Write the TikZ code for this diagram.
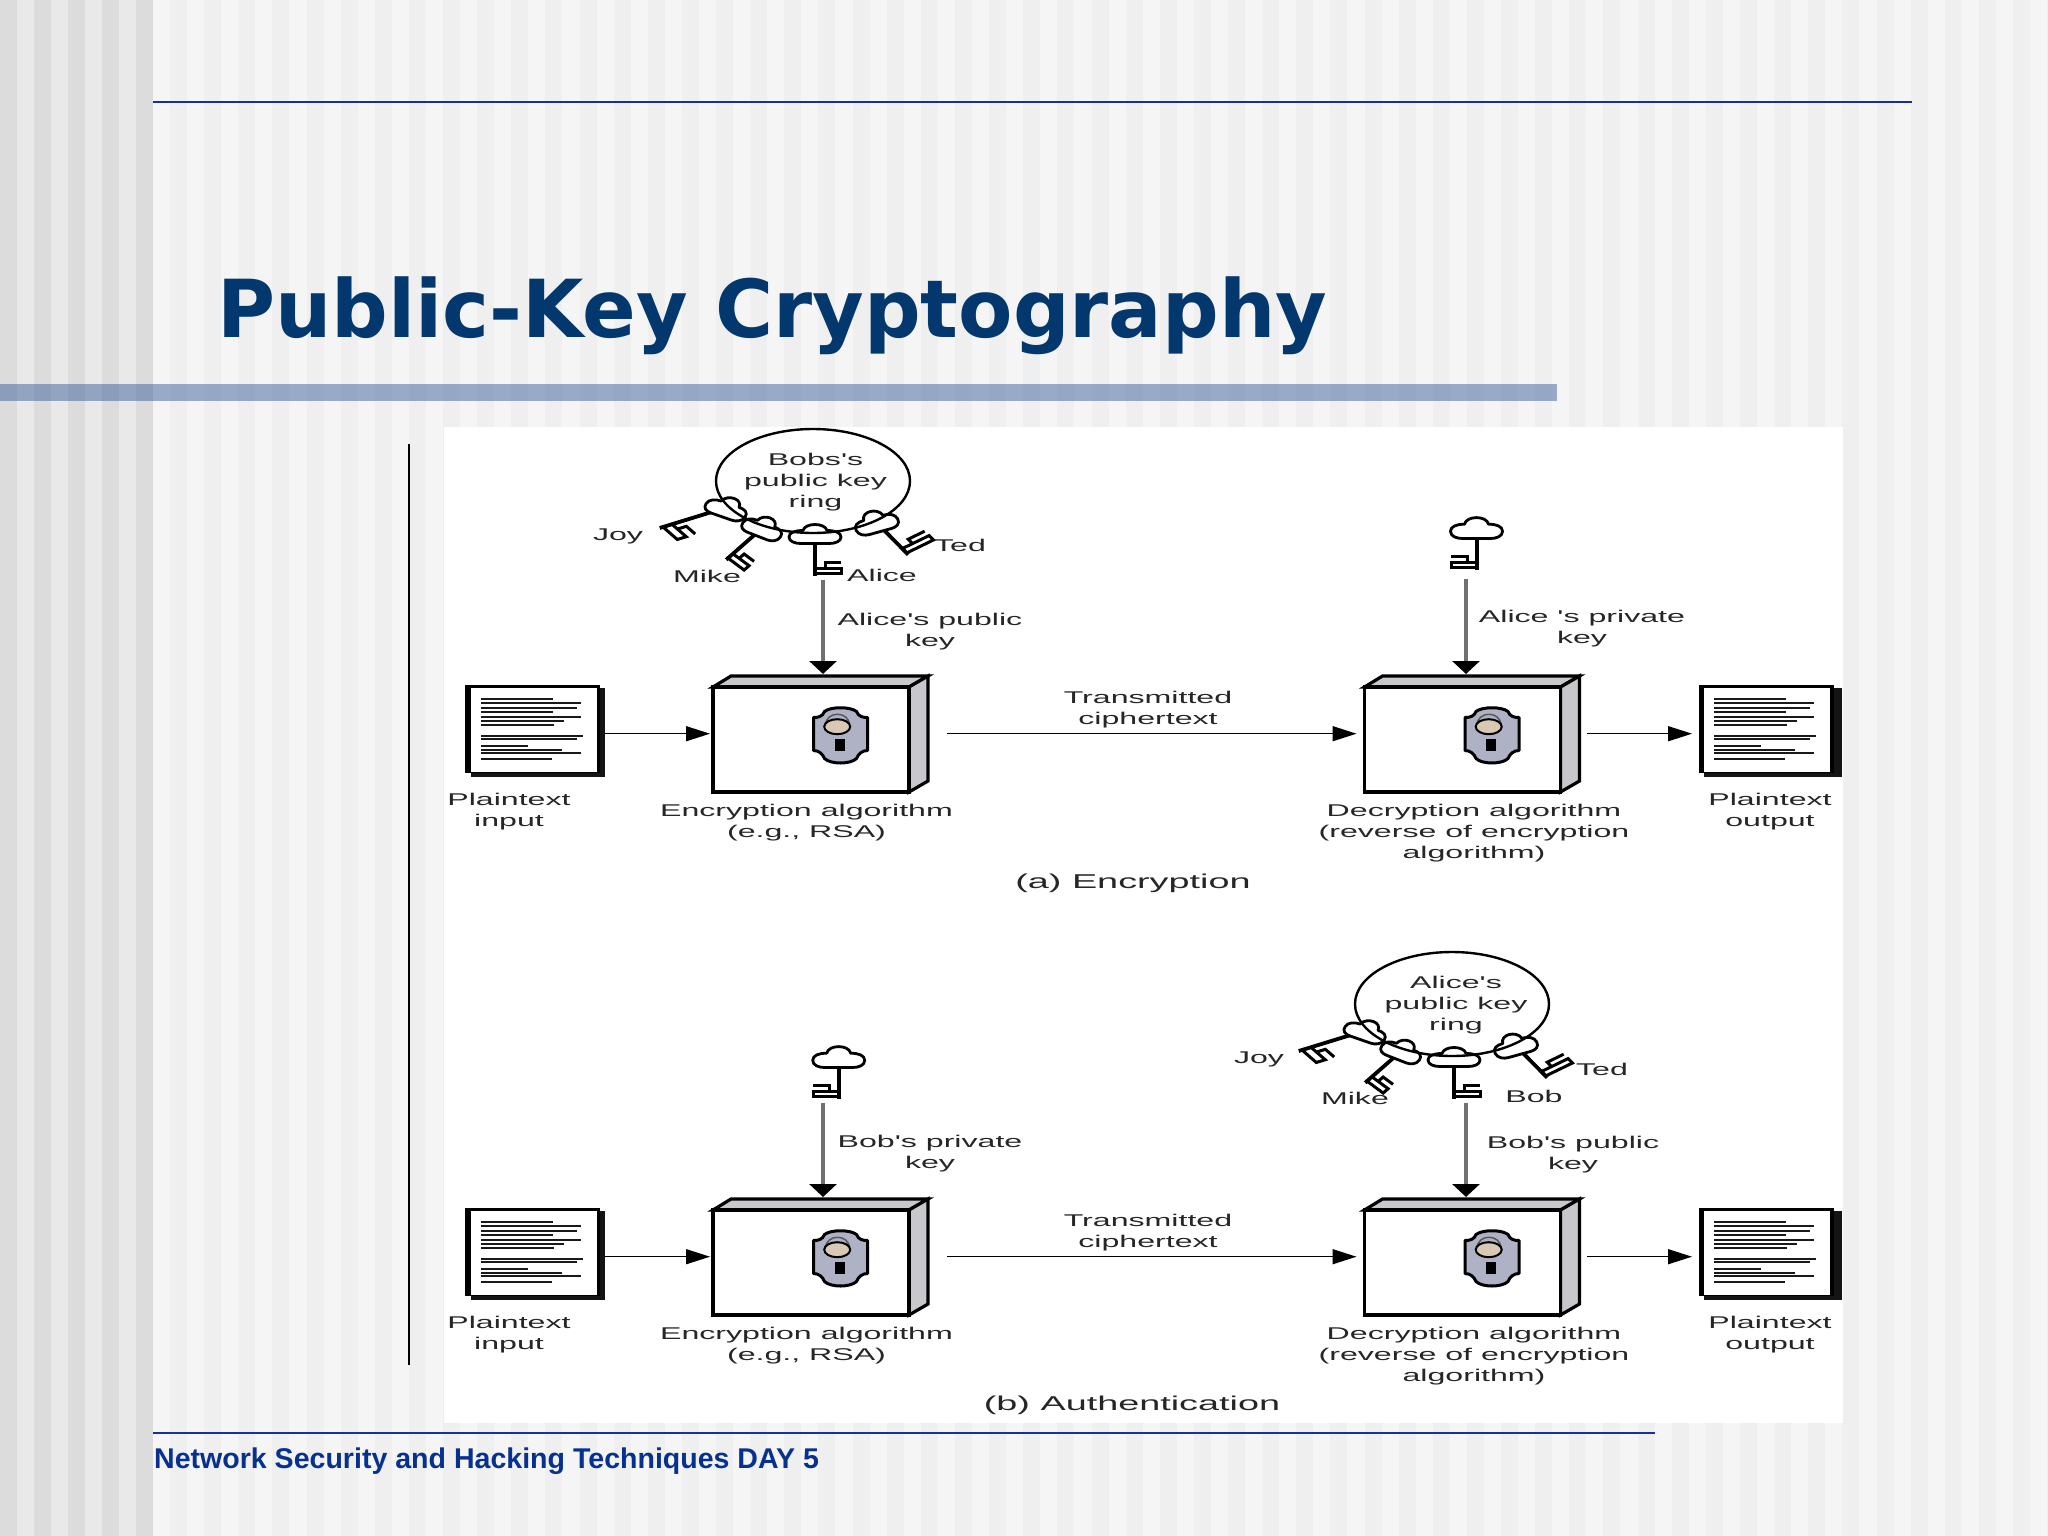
\documentclass[tikz,border=0pt]{standalone}
\usepackage{fontspec}
\usetikzlibrary{arrows.meta}
\setmainfont{Liberation Sans}
\newfontfamily\imgfont[FakeStretch=1.89]{Liberation Sans}
\newfontfamily\titlefont[FakeStretch=.99]{DejaVu Sans}
\definecolor{bgbase}{HTML}{F5F5F6}
\definecolor{bgdark}{HTML}{EFEFF0}
\definecolor{sidelight}{HTML}{E9E9E9}
\definecolor{sidedark}{HTML}{DCDCDC}
\definecolor{bandblue}{HTML}{3E609B}
\definecolor{titleblue}{HTML}{03386E}
\definecolor{footblue}{HTML}{07318F}
\definecolor{ruleblue}{HTML}{16329A}
\definecolor{boxgrey}{HTML}{C8C8CC}
\definecolor{lockgrey}{HTML}{AEB2C4}
\definecolor{locktan}{HTML}{D8C8B4}
\definecolor{inktext}{HTML}{262626}
\definecolor{keyarrow}{HTML}{707070}
\tikzset{
  imglabel/.style={font=\imgfont\fontsize{17}{21}\selectfont,align=center,inner sep=0pt,text=inktext,yshift=-1.7pt},
  caplabel/.style={font=\imgfont\fontsize{20}{21}\selectfont,align=center,inner sep=0pt,text=inktext,yshift=-1.7pt},
  docsheet/.style={fill=white,inner sep=0pt,outer sep=0pt},
  algobox/.style={draw=black,line width=3.5pt,fill=white,inner sep=0pt,outer sep=0pt,minimum width=196pt,minimum height=105pt},
  boxface/.style={draw=black,line width=3.2pt,fill=boxgrey,line join=miter},
  doctext/.style={draw=black!90,line width=2pt},
  flowarrow/.style={draw=black,line width=1.4pt,-{Triangle[length=24pt,width=15pt]}},
  keyflow/.style={draw=keyarrow,line width=4.6pt,-{Triangle[length=13pt,width=27pt,color=black]}},
  keystemline/.style={draw=black,line width=3.8pt},
  keybitline/.style={draw=black,line width=3pt,line join=miter},
  keyheadline/.style={draw=black,line width=2.8pt,line join=round,fill=white},
  ringline/.style={draw=black,line width=2.4pt},
  toprule/.style={draw=ruleblue,line width=2pt}
}
% key body: origin at the centre of the head, stem towards local +y, bits on local +x
\newcommand{\keystem}[6]{%
  \begin{scope}[shift={(#1,#2)}]
  \begin{scope}[cm={#3,#4,#5,#6,(0,0)}]
    \draw[keystemline] (0,8) -- (0,42);
    \draw[keybitline] (0,40) -- (26,40) -- (26,34.5) -- (0,34.5);
    \draw[keybitline] (26,29) -- (10,29) -- (10,34.5);
  \end{scope}
  \end{scope}}
% key head, with its own axes
\newcommand{\keyhead}[6]{%
  \begin{scope}[shift={(#1,#2)}]
  \begin{scope}[cm={#3,#4,#5,#6,(0,0)}]
    \draw[keyheadline] (-26,3.5) .. controls (-26,-1) and (-20,-3) .. (-12,-3)
      .. controls (-10,-11) and (10,-11) .. (12,-3)
      .. controls (20,-3) and (26,-1) .. (26,3.5)
      .. controls (26,8) and (20,10) .. (14,10) -- (-14,10)
      .. controls (-20,10) and (-26,8) .. (-26,3.5) -- cycle;
  \end{scope}
  \end{scope}}
% the four keys on a ring; #1,#2 is the offset of the ring
\newcommand{\ringkeys}[2]{%
  \begin{scope}[shift={(#1,#2)}]
    \keystem{728}{507}{.55}{-.48}{1.625}{.5}
    \keystem{764}{526.5}{.62}{-.46}{.9}{.79}
    \keystem{815}{533.5}{1}{0}{0}{1}
    \keystem{875}{521}{1.03}{.5}{-.79}{.8}
    \keyhead{728}{507}{.75}{-.26}{.68}{.95}
    \keyhead{764}{526.5}{.72}{-.28}{.68}{.95}
    \keyhead{815}{533.5}{1}{0}{0}{1}
    \keyhead{875}{521}{.8}{.22}{-.55}{1.05}
    \draw[ringline] (813,481) ellipse [x radius=97,y radius=52];
  \end{scope}}
% lock badge on an algorithm box
\newcommand{\lockicon}[2]{%
  \begin{scope}[shift={(#1,#2)}]
    \draw[draw=black,line width=3pt,fill=lockgrey,line join=round]
      (-16,-24) .. controls (-10,-29) and (10,-29) .. (16,-24)
      .. controls (18,-19) and (22,-18) .. (27,-18) -- (27,15)
      .. controls (22,15) and (18,18) .. (16,23)
      .. controls (10,29) and (-10,29) .. (-16,23)
      .. controls (-18,18) and (-22,15) .. (-27,15) -- (-27,-18)
      .. controls (-22,-18) and (-18,-19) .. (-16,-24) -- cycle;
    \draw[draw=black!65,line width=1.5pt] (-15,-10) .. controls (-15,-25) and (9,-25) .. (9,-10);
    \draw[draw=black,line width=2pt,fill=locktan] (-3.3,-8.8) ellipse [x radius=13,y radius=7.5];
    \fill[black] (-5.7,3) rectangle (4.3,15);
  \end{scope}}
% page icon; #1 name, #2 outer left, #3 inner left, #4 inner right, #5 shadow right, #6 text shift
\newcommand{\docicon}[6]{%
  \fill[black!92] ({#3},688) rectangle (#5,777);
  \fill[black] (#2,685) rectangle ({#4+3.5},773);
  \node[docsheet,anchor=north west,minimum width={#4-#3},minimum height=83.7pt] (#1) at (#3,688) {};
  \foreach \yy/\xx in {699.3/553,703.3/581,708/576.7,712.3/553,716.7/581,721/564,725.3/554,735.7/583,739/576.7,746/528,750/561.7,752.7/581,759/551.7}
    \draw[doctext] ({481+#6},\yy) -- ({\xx+#6},\yy);}
% algorithm box; #1 name, #2 centre x
\newcommand{\algoicon}[2]{%
  \draw[boxface] ({#2-98},687) -- ({#2-80},676) -- ({#2+117},676) -- ({#2+98},687) -- cycle;
  \draw[boxface] ({#2+98},687) -- ({#2+117},676) -- ({#2+117},781) -- ({#2+98},792) -- cycle;
  \node[algobox] (#1) at (#2,739.5) {};
  \lockicon{{#2+29.5}}{735.5}}
% everything common to panels (a) and (b); #1 suffix, #2 vertical offset
\newcommand{\panelrow}[2]{%
  \begin{scope}[shift={(0,#2)}]
    \docicon{docin#1}{465}{470.5}{596.7}{605}{0}
    \docicon{docout#1}{1699}{1703.6}{1830}{1842}{1233}
    \algoicon{enc#1}{811}
    \algoicon{dec#1}{1462.5}
    \draw[flowarrow] ([xshift=7.3pt,yshift=-3.85pt]docin#1.east) -- ([xshift=-3pt,yshift=5.8pt]enc#1.west);
    \draw[flowarrow] ([xshift=38pt,yshift=5.8pt]enc#1.east) -- ([xshift=-8pt,yshift=5.8pt]dec#1.west);
    \draw[flowarrow] ([xshift=26.5pt,yshift=5.8pt]dec#1.east) -- ([xshift=-11.6pt,yshift=-3.85pt]docout#1.west);
    \node[imglabel] (plainin#1) at (509,809.5) {Plaintext\\input};
    \node[imglabel] (enclabel#1) at (806.5,821) {Encryption algorithm\\(e.g., RSA)};
    \node[imglabel] (cipher#1) at (1148,708) {Transmitted\\ciphertext};
    \node[imglabel] (declabel#1) at (1474,831.5) {Decryption algorithm\\(reverse of encryption\\algorithm)};
    \node[imglabel] (plainout#1) at (1770,809.5) {Plaintext\\output};
  \end{scope}}
\begin{document}
\begin{tikzpicture}[x=1pt,y=-1pt]
\useasboundingbox (0,0) rectangle (2048,1536);
% slide background
\fill[bgbase] (0,0) rectangle (2048,1536);
\foreach \k in {0,...,55}
  \fill[bgdark] ({170+34.13*\k},0) rectangle ({187+34.13*\k},1536);
\fill[sidelight] (0,0) rectangle (153,1536);
\foreach \k in {0,...,4}
  \fill[sidedark] ({34*\k},0) rectangle ({17+34*\k},1536);
\fill[bandblue,fill opacity=.5] (0,384) rectangle (1557,401);
\draw[toprule] (153,102) -- (1912,102);
\draw[toprule] (153,1433) -- (1655,1433);
\node[anchor=base west,inner sep=0pt,text=titleblue,font=\titlefont\bfseries\fontsize{80}{80}\selectfont] (title) at (217,337) {Public-Key Cryptography};
\node[anchor=base west,inner sep=0pt,text=footblue,font=\bfseries\fontsize{28.55}{29}\selectfont] (footer) at (154,1468) {Network Security and Hacking Techniques DAY 5};
% figure
\fill[white] (443.5,427) rectangle (1843,1422.5);
\draw[black,line width=1.6pt] (409,444) -- (409,1365);
\panelrow{A}{0}
\panelrow{B}{523}
% panel (a): ring of public keys
\ringkeys{0}{0}
\node[imglabel] (ringA) at (815.5,480.5) {Bobs's\\public key\\ring};
\node[imglabel] (joyA) at (618,535) {Joy};
\node[imglabel] (mikeA) at (707,574.5) {Mike};
\node[imglabel] (aliceA) at (882,573.5) {Alice};
\node[imglabel] (tedA) at (960,544) {Ted};
\coordinate (keyendA) at (823,580);
\draw[keyflow] (keyendA) -- ([xshift=12pt,yshift=13pt]encA.north);
\node[imglabel] (pubA) at (930,629.5) {Alice's public\\key};
% panel (a): private key
\keystem{1477}{527.5}{-1}{0}{0}{1}
\keyhead{1476.5}{527.5}{1}{0}{0}{1.1}
\coordinate (keyendC) at (1466,579);
\draw[keyflow] (keyendC) -- ([xshift=3.5pt,yshift=13pt]decA.north);
\node[imglabel] (privA) at (1582,627) {Alice 's private\\key};
\node[caplabel] (capA) at (1133,881.5) {(a) Encryption};
% panel (b): private key
\keystem{839}{1056.5}{-1}{0}{0}{1}
\keyhead{838.7}{1056.5}{1}{0}{0}{1.1}
\coordinate (keyendB) at (823,1103);
\draw[keyflow] (keyendB) -- ([xshift=12pt,yshift=13pt]encB.north);
\node[imglabel] (privB) at (930,1152) {Bob's private\\key};
% panel (b): ring of public keys
\ringkeys{639}{523}
\node[imglabel] (ringB) at (1456,1003) {Alice's\\public key\\ring};
\node[imglabel] (joyB) at (1259,1057.5) {Joy};
\node[imglabel] (mikeB) at (1355,1096.5) {Mike};
\node[imglabel] (bobB) at (1534,1094.5) {Bob};
\node[imglabel] (tedB) at (1602,1068) {Ted};
\coordinate (keyendD) at (1466,1103);
\draw[keyflow] (keyendD) -- ([xshift=3.5pt,yshift=13pt]decB.north);
\node[imglabel] (pubB) at (1573,1152.5) {Bob's public\\key};
\node[caplabel] (capB) at (1132,1404) {(b) Authentication};
\end{tikzpicture}
\end{document}
